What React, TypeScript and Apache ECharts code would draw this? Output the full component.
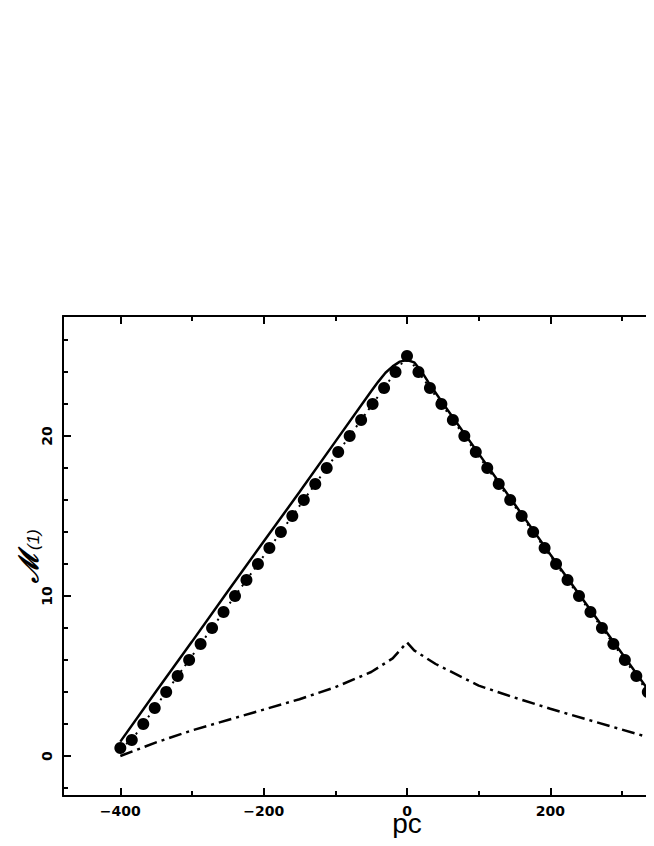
import React, { useEffect, useRef } from 'react';
import * as echarts from 'echarts';

// Filled circles (data points)
const dotX = [
  -400, -384, -368, -352, -336, -320, -304, -288, -272, -256, -240, -224, -208,
  -192, -176, -160, -144, -128, -112, -96, -80, -64, -48, -32, -16, 0,
  16, 32, 48, 64, 80, 96, 112, 128, 144, 160, 176, 192, 208, 224, 240, 256,
  272, 288, 304, 320, 336, 352, 368, 384, 400,
];
const dotY = [
  0.5, 1, 2, 3, 4, 5, 6, 7, 8, 9, 10, 11, 12, 13, 14, 15, 16, 17, 18, 19, 20,
  21, 22, 23, 24, 25,
  24, 23, 22, 21, 20, 19, 18, 17, 16, 15, 14, 13, 12, 11, 10, 9, 8, 7, 6, 5,
  4, 3, 2, 1, 0.5,
];

// Solid curve
const solidX = [-400, -350, -300, -250, -200, -150, -100, -50, -40, -30, -20, -10, 0, 10, 20, 30, 50, 100, 150, 200, 250, 300, 350, 400];
const solidY = [0.9, 4.05, 7.15, 10.3, 13.4, 16.5, 19.65, 22.8, 23.4, 23.95, 24.35, 24.65, 24.75, 24.6, 24.05, 23.35, 22.05, 18.9, 15.75, 12.6, 9.5, 6.4, 3.3, 0.2];

// Dash-dot curve
const dashX = [-400, -350, -300, -250, -200, -150, -100, -50, -20, -10, 0, 10, 40, 100, 150, 200, 250, 300, 350, 400];
const dashY = [0, 0.85, 1.6, 2.25, 2.9, 3.55, 4.3, 5.25, 6.1, 6.6, 7.1, 6.6, 5.75, 4.4, 3.65, 2.95, 2.3, 1.65, 1.0, 0.35];

// Tick labels visible in the picture
const xTickLabels = [-400, -200, 0, 200];
const yTickLabels = [0, 10, 20];

const pairs = (xs: number[], ys: number[]) => xs.map((x, i) => [x, ys[i]]);

const labelFont = {
  color: '#000',
  fontWeight: 'bold' as const,
  fontSize: 14,
  fontFamily: 'DejaVu Sans, sans-serif',
};

export default function App() {
  const ref = useRef<HTMLDivElement>(null);
  useEffect(() => {
    if (!ref.current) return;
    const chart = echarts.init(ref.current, undefined, { renderer: 'svg' });
    const axisLine = { show: true, onZero: false, lineStyle: { color: '#000', width: 2 } };
    const axisTick = { show: true, inside: true, length: 8, lineStyle: { color: '#000', width: 2 } };
    const xCommon = {
      type: 'value' as const,
      min: -480,
      max: 480,
      splitNumber: 5,
      minInterval: 200,
      maxInterval: 200,
      axisLine,
      axisTick,
      minorTick: { show: true, splitNumber: 2, length: 5, lineStyle: { color: '#000', width: 2 } },
      splitLine: { show: false },
    };
    const yCommon = {
      type: 'value' as const,
      min: -2.5,
      max: 27.5,
      splitNumber: 3,
      minInterval: 10,
      maxInterval: 10,
      axisLine,
      axisTick,
      minorTick: { show: true, splitNumber: 5, length: 5, lineStyle: { color: '#000', width: 2 } },
      splitLine: { show: false },
    };
    chart.setOption({
      animation: false,
      backgroundColor: '#fff',
      grid: { left: 55, right: 57, top: 308, bottom: 42, containLabel: false, outerBoundsMode: 'none' },
      graphic: [
        {
          type: 'text',
          x: 34,
          y: 575,
          rotation: Math.PI / 2,
          style: {
            text: '{m|\u2133}{s|(1)}',
            align: 'left',
            verticalAlign: 'bottom',
            fill: '#000',
            rich: {
              m: {
                fontSize: 27,
                fontStyle: 'italic',
                fontWeight: 'bold',
                fontFamily: 'DejaVu Serif, serif',
                fill: '#000',
                verticalAlign: 'bottom',
              },
              s: {
                fontSize: 17,
                fontStyle: 'italic',
                fontFamily: 'Liberation Sans, Arial, sans-serif',
                fill: '#000',
                verticalAlign: 'bottom',
                padding: [0, 0, 0, 2],
              },
            },
          },
        },
      ],
      xAxis: [
        {
          ...xCommon,
          position: 'bottom',
          axisLabel: {
            ...labelFont,
            lineHeight: 10,
            margin: 10,
            showMinLabel: false,
            showMaxLabel: false,
            formatter: (v: number) =>
              xTickLabels.includes(v) ? String(v).replace('-', '\u2212') : '',
          },
          name: 'pc',
          nameLocation: 'middle',
          nameGap: 20,
          nameMoveOverlap: false,
          nameTextStyle: {
            color: '#000',
            fontSize: 28,
            lineHeight: 14,
            fontFamily: 'Liberation Sans, Arial, sans-serif',
          },
        },
        {
          ...xCommon,
          position: 'top',
          axisLabel: { show: false },
        },
      ],
      yAxis: [
        {
          ...yCommon,
          position: 'left',
          axisLabel: {
            ...labelFont,
            rotate: 90,
            margin: 9,
            showMinLabel: false,
            showMaxLabel: false,
            formatter: (v: number) => (yTickLabels.includes(v) ? String(v) : ''),
          },
        },
        {
          ...yCommon,
          position: 'right',
          axisLabel: { show: false },
        },
      ],
      series: [
        {
          type: 'line',
          data: pairs(dashX, dashY),
          showSymbol: false,
          symbol: 'none',
          lineStyle: { color: '#000', width: 2.5, type: [13, 5, 3, 5] },
          z: 2,
        },
        {
          type: 'line',
          data: pairs(solidX, solidY),
          showSymbol: false,
          symbol: 'none',
          lineStyle: { color: '#000', width: 2.5 },
          z: 3,
        },
        {
          type: 'line',
          data: pairs(dotX, dotY),
          showSymbol: false,
          symbol: 'none',
          lineStyle: { color: '#000', width: 2, type: [2, 5] },
          z: 2,
        },
        {
          type: 'scatter',
          data: pairs(dotX, dotY),
          symbol: 'circle',
          symbolSize: 12,
          itemStyle: { color: '#000', opacity: 1 },
          z: 4,
        },
      ],
    });
    return () => chart.dispose();
  }, []);
  return (
    <div style={{ width: 646, height: 830, overflow: 'hidden' }}>
      <div ref={ref} style={{ width: 800, height: 830 }} />
    </div>
  );
}
